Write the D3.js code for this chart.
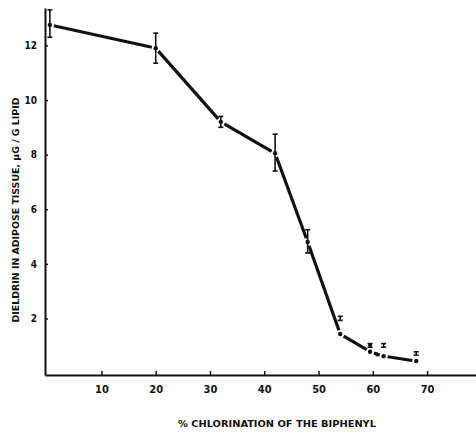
<!DOCTYPE html>
<html>
<head>
<meta charset="utf-8">
<script src="https://cdn.jsdelivr.net/npm/d3@7"></script>
<style>
  body { margin: 0; background: #fff; }
  text { font-family: "Liberation Sans Narrow", "DejaVu Sans Condensed", "Liberation Sans", sans-serif; font-weight: bold; fill: #111; }
</style>
</head>
<body>
<svg id="chart" width="476" height="434"></svg>
<script>
// % chlorination vs dieldrin in adipose tissue
var chlorination = [0.5, 20, 32, 42, 48, 54, 59.5, 62, 68]
var dieldrin = [12.75, 11.9, 9.2, 8.05, 4.8, 1.43, 0.78, 0.62, 0.44]
var errLow = [12.3, 11.35, 9.0, 7.4, 4.4, 1.93, 0.95, 0.95, 0.66]
var errHigh = [13.3, 12.45, 9.4, 8.75, 5.25, 2.08, 1.08, 1.08, 0.78]
var extraX = [59.5, 60.8]
var extraY = [1.03, 0.68]
var xTicks = [10, 20, 30, 40, 50, 60, 70]
var yTicks = [2, 4, 6, 8, 10, 12]

var svg = d3.select('#chart')

var x = d3.scaleLinear().domain([-0.4, 79.2]).range([45, 477])
var y = d3.scaleLinear().domain([-0.07, 13.37]).range([375, 8])

// x axis, ticks pointing up into the plot
var xAxis = svg.append('g')
  .attr('transform', 'translate(0,' + y(-0.07) + ')')
  .call(d3.axisBottom(x).tickValues(xTicks).tickSize(-4).tickSizeOuter(0).tickPadding(10))
xAxis.select('.domain').attr('stroke', '#111').attr('stroke-width', 2)
xAxis.selectAll('.tick line').attr('stroke', '#111').attr('stroke-width', 1.5)
xAxis.selectAll('.tick text').style('font-size', '11px').attr('font-family', 'DejaVu Sans')

// y axis, ticks pointing right
var yAxis = svg.append('g')
  .attr('transform', 'translate(' + x(-0.4) + ',0)')
  .call(d3.axisLeft(y).tickValues(yTicks).tickSize(-3).tickSizeOuter(0).tickPadding(8))
yAxis.select('.domain').attr('stroke', '#111').attr('stroke-width', 2)
yAxis.selectAll('.tick line').attr('stroke', '#111').attr('stroke-width', 1.5)
yAxis.selectAll('.tick text').style('font-size', '10px')

// main line, drawn as segments that stop short of each marker
var pts = chlorination.map(function (c, i) { return [x(c), y(dieldrin[i])] })
var gap = 4
for (var i = 0; i < pts.length - 1; i++) {
  var a = pts[i], b = pts[i + 1]
  var dx = b[0] - a[0], dy = b[1] - a[1]
  var len = Math.sqrt(dx * dx + dy * dy)
  var ux = dx / len, uy = dy / len
  svg.append('line')
    .attr('x1', a[0] + ux * gap).attr('y1', a[1] + uy * gap)
    .attr('x2', b[0] - ux * gap).attr('y2', b[1] - uy * gap)
    .attr('stroke', '#111').attr('stroke-width', 3.2)
}

// error bars
var bars = svg.append('g').attr('stroke', '#111').attr('stroke-width', 1.6)
chlorination.forEach(function (c, i) {
  var cx = x(c)
  bars.append('line').attr('x1', cx).attr('x2', cx).attr('y1', y(errLow[i])).attr('y2', y(errHigh[i]))
  bars.append('line').attr('x1', cx - 2.5).attr('x2', cx + 2.5).attr('y1', y(errLow[i])).attr('y2', y(errLow[i]))
  bars.append('line').attr('x1', cx - 2.5).attr('x2', cx + 2.5).attr('y1', y(errHigh[i])).attr('y2', y(errHigh[i]))
})

// data points
svg.append('g').selectAll('circle')
  .data(chlorination)
  .join('circle')
  .attr('cx', function (d) { return x(d) })
  .attr('cy', function (d, i) { return y(dieldrin[i]) })
  .attr('r', 2.2)
  .attr('fill', '#111')

svg.append('g').selectAll('circle')
  .data(extraX)
  .join('circle')
  .attr('cx', function (d) { return x(d) })
  .attr('cy', function (d, i) { return y(extraY[i]) })
  .attr('r', 2)
  .attr('fill', '#111')

// axis titles
svg.append('text')
  .attr('transform', 'translate(16,210) rotate(-90)')
  .attr('text-anchor', 'middle')
  .attr('dominant-baseline', 'middle')
  .attr('textLength', 225)
  .attr('lengthAdjust', 'spacingAndGlyphs')
  .style('font-size', '9px')
  .text('DIELDRIN IN ADIPOSE TISSUE, µG / G LIPID')

svg.append('text')
  .attr('x', 277)
  .attr('y', 424)
  .attr('text-anchor', 'middle')
  .attr('dominant-baseline', 'middle')
  .attr('textLength', 198)
  .attr('lengthAdjust', 'spacingAndGlyphs')
  .style('font-size', '9px')
  .text('% CHLORINATION OF THE BIPHENYL')
</script>
</body>
</html>
